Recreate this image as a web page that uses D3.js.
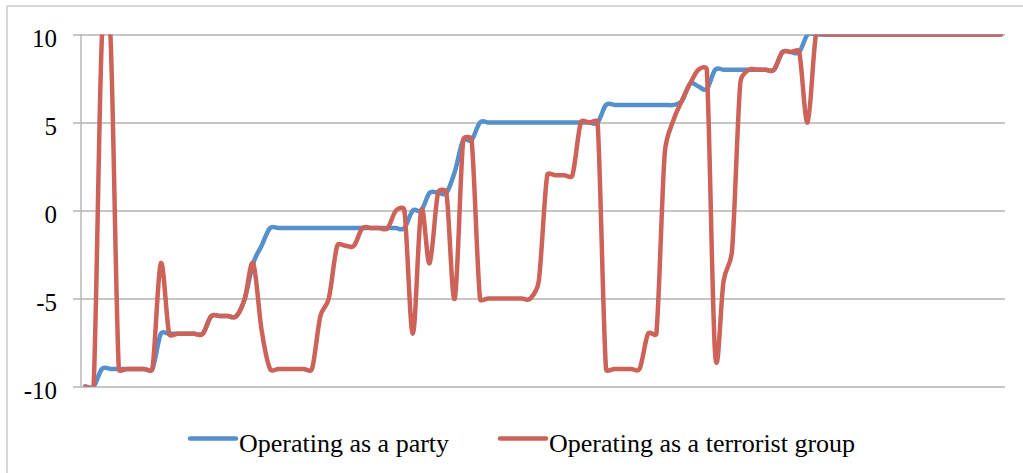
<!DOCTYPE html>
<html>
<head>
<meta charset="utf-8">
<script src="https://cdn.jsdelivr.net/npm/d3@7"></script>
<style>
  html, body { margin: 0; padding: 0; background: #ffffff; }
  svg { display: block; }
</style>
</head>
<body>
<svg id="chart" width="1023" height="473"></svg>
<script>
// Observation index along the horizontal axis (unlabelled categories)
const periods = d3.range(1, 111);

// Score of the organisation while operating as a party
const partyScores = [
  -10, -10, -9, -9, -9, -9, -9, -9, -9, -7,
  -7, -7, -7, -7, -7, -6, -6, -6, -6, -5,
  -3, -2, -1, -1, -1, -1, -1, -1, -1, -1,
  -1, -1, -1, -1, -1, -1, -1, -1, -1, 0,
  0, 1, 1, 1, 2.2, 4, 4, 5, 5, 5,
  5, 5, 5, 5, 5, 5, 5, 5, 5, 5,
  5, 5, 6, 6, 6, 6, 6, 6, 6, 6,
  6, 6.2, 7.2, 7.05, 6.9, 8, 8, 8, 8, 8,
  8, 8, 8, 9, 9, 9, 10, 10, 10, 10,
  10, 10, 10, 10, 10, 10, 10, 10, 10, 10,
  10, 10, 10, 10, 10, 10, 10, 10, 10, 10
];

// Score of the organisation while operating as a terrorist group
const terrorScores = [
  -10, -10, 10, 10, -9, -9, -9, -9, -9, -3,
  -7, -7, -7, -7, -7, -6, -6, -6, -6, -5,
  -3, -6.8, -9, -9, -9, -9, -9, -9, -6, -5,
  -2, -2, -2, -1, -1, -1, -1, 0, 0, -7,
  0, -3, 1, 1, -5, 4, 4, -5, -5, -5,
  -5, -5, -5, -5, -4, 2, 2, 2, 2, 5,
  5, 5, -9, -9, -9, -9, -9, -7, -7, 3.3,
  5.1, 6.2, 7.2, 8, 8, -8.2, -4, -2.3, 7.3, 8,
  8, 8, 8, 9, 9, 9, 5, 10, 10, 10,
  10, 10, 10, 10, 10, 10, 10, 10, 10, 10,
  10, 10, 10, 10, 10, 10, 10, 10, 10, 10
];

const yTicks = [10, 5, 0, -5, -10];
const yTickLabels = ["10", "5", "0", "-5", "-10"];

const seriesNames = ["Operating as a party", "Operating as a terrorist group"];
const seriesColors = ["#5490CC", "#CD6259"];

const svg = d3.select("#chart");
const plot = { left: 81, right: 1005, top: 34.5, bottom: 386.5 };
const serif = "'Liberation Serif', 'Times New Roman', serif";

// Smoothed line: cubic Bezier segments whose control arms follow the
// neighbouring chord, capped at half the length of the segment drawn.
function smoothCurve(context) {
  let pts;
  return {
    areaStart() {}, areaEnd() {},
    lineStart() { pts = []; },
    point(x, y) { pts.push([+x, +y]); },
    lineEnd() {
      const n = pts.length;
      if (!n) return;
      context.moveTo(pts[0][0], pts[0][1]);
      const dist = (a, b) => Math.hypot(b[0] - a[0], b[1] - a[1]);
      for (let i = 0; i < n - 1; i++) {
        const p0 = pts[i - 1] || pts[i];
        const p1 = pts[i];
        const p2 = pts[i + 1];
        const p3 = pts[i + 2] || pts[i + 1];
        const d12 = dist(p1, p2);
        const d02 = dist(p0, p2);
        const d13 = dist(p1, p3);
        const f1 = d02 === 0 ? 0 : Math.min(1 / 6, d12 / (2 * d02));
        const f2 = d13 === 0 ? 0 : Math.min(1 / 6, d12 / (2 * d13));
        const c1 = [p1[0] + (p2[0] - p0[0]) * f1, p1[1] + (p2[1] - p0[1]) * f1];
        const c2 = [p2[0] - (p3[0] - p1[0]) * f2, p2[1] - (p3[1] - p1[1]) * f2];
        context.bezierCurveTo(c1[0], c1[1], c2[0], c2[1], p2[0], p2[1]);
      }
    }
  };
}

// outer frame of the chart area
svg.append("rect")
  .attr("x", 7).attr("y", 6)
  .attr("width", 1040).attr("height", 500)
  .attr("fill", "none")
  .attr("stroke", "#BFBFBF")
  .attr("stroke-width", 1.2);

const x = d3.scalePoint()
  .domain(periods)
  .range([plot.left, plot.right])
  .padding(0.5);

const y = d3.scaleLinear()
  .domain([-10, 10])
  .range([plot.bottom, plot.top]);

// value axis with gridlines spanning the plot
const tickStart = 73;
const yAxis = d3.axisLeft(y)
  .tickValues(yTicks)
  .tickFormat((d, i) => yTickLabels[i])
  .tickSize(-(plot.right - tickStart))
  .tickSizeOuter(0)
  .tickPadding(16);

const gy = svg.append("g")
  .attr("transform", `translate(${tickStart},0)`)
  .call(yAxis);
gy.select(".domain").remove();
gy.selectAll(".tick line")
  .attr("stroke", "#B3B3B3")
  .attr("stroke-width", 1.4);
gy.selectAll(".tick text")
  .attr("fill", "#000")
  .attr("font-family", serif)
  .attr("font-size", 25)
  .attr("dy", "0.46em");

// vertical axis line
svg.append("line")
  .attr("x1", plot.left).attr("x2", plot.left)
  .attr("y1", plot.top).attr("y2", plot.bottom)
  .attr("stroke", "#B3B3B3")
  .attr("stroke-width", 1.4);

svg.append("clipPath").attr("id", "plot-clip")
  .append("rect")
  .attr("x", plot.left).attr("y", plot.top)
  .attr("width", plot.right - plot.left)
  .attr("height", plot.bottom - plot.top);

const line = d3.line()
  .x((d, i) => x(periods[i]))
  .y(d => y(d))
  .curve(smoothCurve);

const series = [partyScores, terrorScores];
svg.append("g")
  .attr("clip-path", "url(#plot-clip)")
  .selectAll("path")
  .data(series)
  .join("path")
  .attr("d", d => line(d))
  .attr("fill", "none")
  .attr("stroke", (d, i) => seriesColors[i])
  .attr("stroke-width", 4.5)
  .attr("stroke-linejoin", "round")
  .attr("stroke-linecap", "round");

// legend
const legendItems = [
  { x: 190, name: seriesNames[0], color: seriesColors[0] },
  { x: 500, name: seriesNames[1], color: seriesColors[1] }
];
const legend = svg.append("g");
const li = legend.selectAll("g").data(legendItems).join("g")
  .attr("transform", d => `translate(${d.x},438.5)`);
li.append("line")
  .attr("x1", 0).attr("x2", 46)
  .attr("y1", 0).attr("y2", 0)
  .attr("stroke", d => d.color)
  .attr("stroke-width", 4.5)
  .attr("stroke-linecap", "round");
li.append("text")
  .attr("x", 49).attr("y", 13)
  .attr("font-family", serif)
  .attr("font-size", 26)
  .attr("fill", "#000")
  .text(d => d.name);
</script>
</body>
</html>
